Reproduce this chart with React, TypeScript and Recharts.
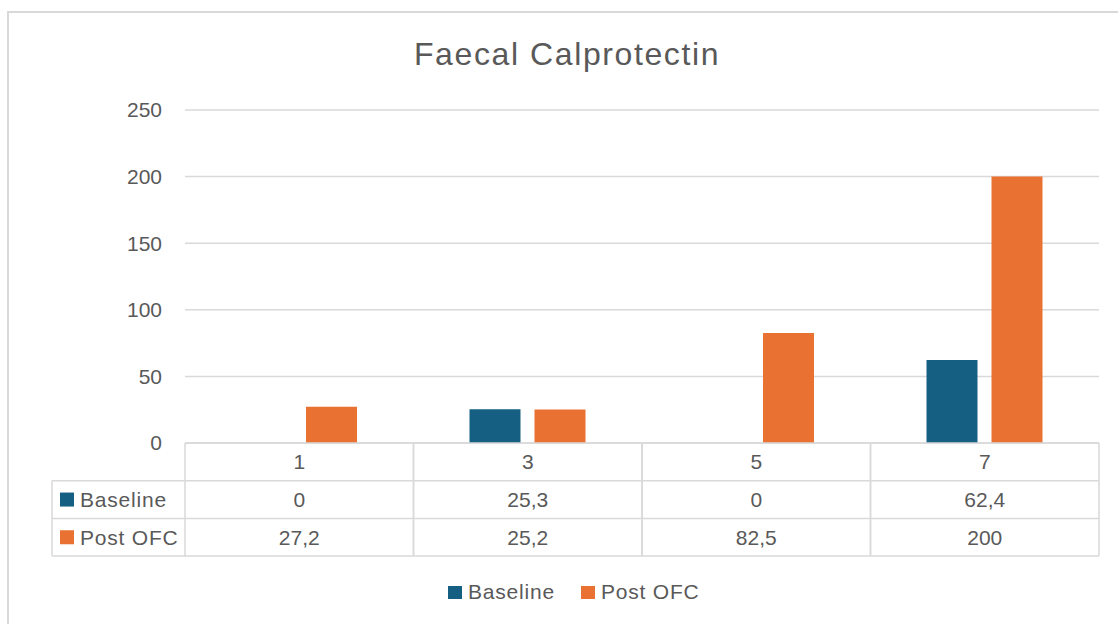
import { BarChart, Bar, XAxis, YAxis, CartesianGrid, Legend } from 'recharts'

const categories = ['1', '3', '5', '7']
const baselineValues = [0, 25.3, 0, 62.4]
const postOfcValues = [27.2, 25.2, 82.5, 200]
const yTicks = [0, 50, 100, 150, 200, 250]
const seriesNames = ['Baseline', 'Post OFC']

const BLUE = '#156082'
const ORANGE = '#E97132'
const TEXT = '#595959'
const LINE = '#d9d9d9'
const FONT = '"Liberation Sans", Arial, sans-serif'

const CHART_W = 1118
const CHART_H = 624
const MARGIN = { top: 110, right: 19, left: 125, bottom: 68 }
const YAXIS_W = 60
const PLOT_W = CHART_W - MARGIN.left - MARGIN.right - YAXIS_W
const COL_W = PLOT_W / categories.length
const ROW_H = 37.7
const TABLE_LEFT = 52

const data = categories.map((c, i) => ({
  name: c,
  baseline: baselineValues[i],
  post: postOfcValues[i],
}))

const fmt = (v: number) => String(v).replace('.', ',')

function TableTick(props: any) {
  const { x, y, payload } = props
  const i = payload.index
  const l = x - COL_W / 2
  const r = x + COL_W / 2
  const rows = [categories[i], fmt(baselineValues[i]), fmt(postOfcValues[i])]
  const colors = [BLUE, ORANGE]
  return (
    <g>
      {[0, 1, 2, 3].map((k) => (
        <line key={`h${k}`} x1={l} x2={r} y1={y + k * ROW_H} y2={y + k * ROW_H} stroke={LINE} strokeWidth={1.5} />
      ))}
      <line x1={l} x2={l} y1={y} y2={y + 3 * ROW_H} stroke={LINE} strokeWidth={1.5} />
      <line x1={r} x2={r} y1={y} y2={y + 3 * ROW_H} stroke={LINE} strokeWidth={1.5} />
      {rows.map((t, k) => (
        <text
          key={`t${k}`}
          x={x}
          y={y + k * ROW_H + ROW_H / 2}
          textAnchor="middle"
          dominantBaseline="central"
          fill={TEXT}
          fontSize={21}
          fontFamily={FONT}
        >
          {t}
        </text>
      ))}
      {i === 0 && (
        <g>
          {[1, 2, 3].map((k) => (
            <line key={`lh${k}`} x1={TABLE_LEFT} x2={l} y1={y + k * ROW_H} y2={y + k * ROW_H} stroke={LINE} strokeWidth={1.5} />
          ))}
          <line x1={TABLE_LEFT} x2={TABLE_LEFT} y1={y + ROW_H} y2={y + 3 * ROW_H} stroke={LINE} strokeWidth={1.5} />
          {seriesNames.map((n, k) => (
            <g key={n}>
              <rect x={60} y={y + (k + 1) * ROW_H + ROW_H / 2 - 7} width={14} height={14} fill={colors[k]} />
              <text
                x={80}
                y={y + (k + 1) * ROW_H + ROW_H / 2}
                dominantBaseline="central"
                fill={TEXT}
                fontSize={21}
                fontFamily={FONT}
                letterSpacing={0.8}
              >
                {n}
              </text>
            </g>
          ))}
        </g>
      )}
    </g>
  )
}

function LegendContent() {
  const colors = [BLUE, ORANGE]
  return (
    <div style={{ display: 'flex', alignItems: 'center', fontFamily: FONT, fontSize: 21, color: TEXT, letterSpacing: 0.8 }}>
      {seriesNames.map((n, k) => (
        <div key={n} style={{ display: 'flex', alignItems: 'center', marginRight: k === 0 ? 26 : 0 }}>
          <span style={{ display: 'inline-block', width: 14, height: 13, background: colors[k], marginRight: 6 }} />
          <span>{n}</span>
        </div>
      ))}
    </div>
  )
}

export default function App() {
  return (
    <div style={{ position: 'absolute', left: 0, top: 0, width: CHART_W, height: CHART_H, overflow: 'hidden', background: '#fff' }}>
      <div
        style={{
          position: 'absolute',
          left: 7,
          top: 11,
          width: 1130,
          height: 640,
          border: `2px solid ${LINE}`,
          boxSizing: 'border-box',
        }}
      />
      <div
        style={{
          position: 'absolute',
          left: 0,
          top: 38,
          width: 1134,
          textAlign: 'center',
          fontFamily: FONT,
          fontSize: 32,
          lineHeight: '32px',
          color: TEXT,
          letterSpacing: 1.6,
        }}
      >
        Faecal Calprotectin
      </div>
      <div style={{ position: 'absolute', left: 0, top: 0 }}>
        <BarChart width={CHART_W} height={CHART_H} data={data} margin={MARGIN} barSize={51} barGap={14}>
          <CartesianGrid horizontal vertical={false} stroke={LINE} strokeWidth={1.5} />
          <XAxis
            dataKey="name"
            height={113}
            interval={0}
            axisLine={false}
            tickLine={false}
            tickSize={0}
            tickMargin={0}
            tick={(p: any) => <TableTick {...p} />}
          />
          <YAxis
            width={YAXIS_W}
            domain={[0, 250]}
            ticks={yTicks}
            axisLine={false}
            tickLine={false}
            tickMargin={17}
            tick={{ fill: TEXT, fontSize: 21, fontFamily: FONT }}
          />
          <Legend
            layout="horizontal"
            verticalAlign="middle"
            align="center"
            content={() => <LegendContent />}
            wrapperStyle={{ top: 580, left: 448, width: 'auto' }}
          />
          <Bar dataKey="baseline" name="Baseline" fill={BLUE} isAnimationActive={false} />
          <Bar dataKey="post" name="Post OFC" fill={ORANGE} isAnimationActive={false} />
        </BarChart>
      </div>
    </div>
  )
}
